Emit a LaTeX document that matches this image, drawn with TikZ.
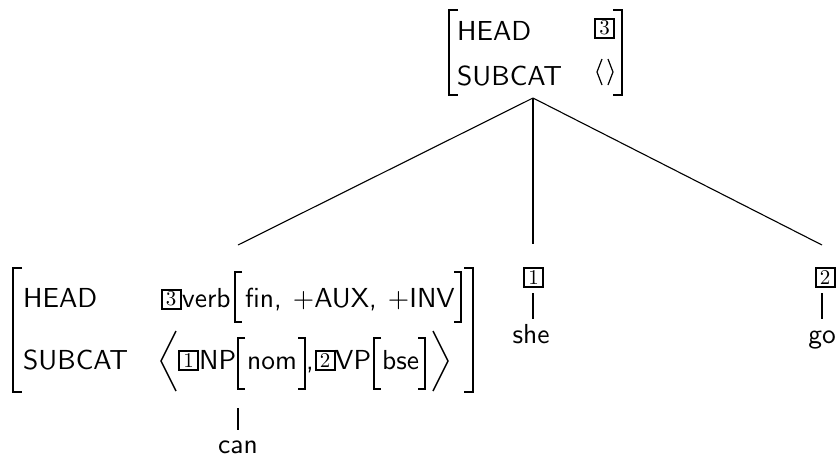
\documentclass[tikz,border=0pt]{standalone}
\usepackage{fontspec}
\newfontfamily\avmfont{lmsans10-regular.otf}
\newfontfamily\tagfont{lmroman10-regular.otf}
\begin{document}
\begin{tikzpicture}[x=1pt,y=-1pt,
  lbl/.style={font=\avmfont\fontsize{27.5}{33}\selectfont, inner sep=0pt, anchor=base west},
  word/.style={font=\avmfont\fontsize{27.5}{33}\selectfont, inner sep=0pt, anchor=base},
  tagbox/.style={draw, line width=2pt, font=\tagfont\fontsize{21}{21}\selectfont,
    inner sep=0pt, minimum width=19pt, minimum height=19pt},
  brk/.style={line width=1.4pt},
  angl/.style={line width=1.2pt},
  branch/.style={line width=1.1pt}]
\useasboundingbox (0,0) rectangle (839,461);

% mother: HEAD 3, SUBCAT < >
\node[lbl] (rHead) at (457,40) {HEAD};
\node[lbl] (rSub) at (457,85) {SUBCAT};
\node[tagbox] (rTag) at (604.5,28) {3};
\draw[angl] (602,59) -- (597,72) -- (602,85);
\draw[angl] (608,59) -- (613,72) -- (608,85);
\draw[brk] (458,10) -- (449,10) -- (449,95) -- (458,95);
\draw[brk] (613,10) -- (622,10) -- (622,95) -- (613,95);
\coordinate (rootFoot) at (533,98);

% head daughter
\node[lbl] (hd) at (23,307) {HEAD};
\node[lbl] (sc) at (23,369) {SUBCAT};
\node[tagbox] (t3) at (171,299) {3};
\node[lbl] (verb) at (182,307) {verb};
\draw[brk] (242,272) -- (235,272) -- (235,322) -- (242,322);
\node[lbl] (feat) at (245,307) {fin,\hspace{2pt} +AUX,\hspace{2pt} +INV};
\draw[brk] (454,272) -- (461,272) -- (461,322) -- (454,322);
\draw[brk] (22,268) -- (13,268) -- (13,392) -- (22,392);
\draw[brk] (464,268) -- (473,268) -- (473,392) -- (464,392);

\draw[brk] (176,331) -- (161,361) -- (176,391);
\node[tagbox] (t1) at (188.5,360.5) {1};
\node[lbl] (np) at (199,369) {NP};
\draw[brk] (245,338) -- (238,338) -- (238,389) -- (245,389);
\node[lbl] (nom) at (247,369) {nom};
\draw[brk] (298,338) -- (305,338) -- (305,389) -- (298,389);
\node[lbl] (comma) at (306,369) {,};
\node[tagbox] (t2) at (325,360.5) {2};
\node[lbl] (vp) at (335,369) {VP};
\draw[brk] (381,338) -- (374,338) -- (374,389) -- (381,389);
\node[lbl] (bse) at (382,369) {bse};
\draw[brk] (418,338) -- (425,338) -- (425,389) -- (418,389);
\draw[brk] (433,331) -- (448,361) -- (433,391);

\coordinate (lhsTop) at (238,245);
\coordinate (avmFoot) at (238,408);
\coordinate (canLink) at (238,430);
\node[word] (can) at (238,453) {can};

% subject and complement daughters
\coordinate (sheTop) at (533,244);
\node[tagbox] (tagShe) at (533.5,277.5) {1};
\node[word] (she) at (531,343) {she};
\coordinate (goTop) at (822,245);
\node[tagbox] (tagGo) at (825,277.5) {2};
\node[word] (go) at (822,343) {go};

% branches
\draw[branch] (rootFoot) -- (lhsTop);
\draw[branch] (rootFoot) -- (sheTop);
\draw[branch] (rootFoot) -- (goTop);
\draw[branch] (avmFoot) -- (canLink);
\draw[branch] ([yshift=-5pt]tagShe.south -| sheTop) -- ([yshift=-31pt]tagShe.south -| sheTop);
\draw[branch] ([yshift=-5pt]tagGo.south -| go.base) -- ([yshift=-31pt]tagGo.south -| go.base);
\end{tikzpicture}
\end{document}
